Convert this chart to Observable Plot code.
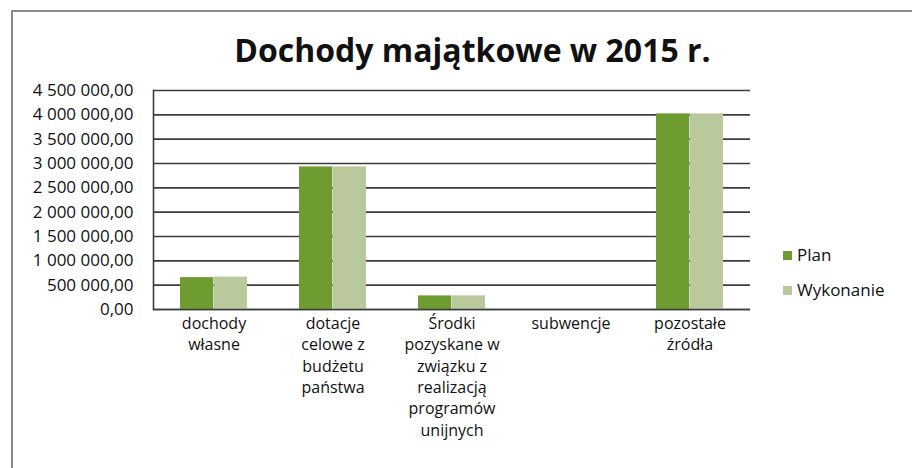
<!DOCTYPE html>
<html>
<head>
<meta charset="utf-8">
<script src="https://cdn.jsdelivr.net/npm/d3@7"></script>
<script src="https://cdn.jsdelivr.net/npm/@observablehq/plot@0.6"></script>
<style>
  html, body { margin: 0; padding: 0; background: #fff; }
  #wrap { position: relative; width: 912px; height: 468px; overflow: hidden; font-family: "Open Sans", sans-serif; color: #111; }
  #border { position: absolute; left: 11px; top: 10px; right: -5px; bottom: -5px; border-top: 2px solid #8a8a8a; border-left: 2px solid #8a8a8a; }
  #title { position: absolute; left: 0; width: 945px; top: 28px; text-align: center; font-size: 32px; font-weight: 700; color: #111; }
  #chart { position: absolute; left: 0; top: 0; }
  #legend { position: absolute; left: 783px; top: 243px; font-size: 17px; color: #111; }
  #legend div { height: 35px; display: flex; align-items: flex-start; }
  #legend span.sw { display: inline-block; width: 9px; height: 9px; margin-right: 5px; margin-top: 8px; }
</style>
</head>
<body>
<div id="wrap">
  <div id="border"></div>
  <div id="title">Dochody majątkowe w 2015 r.</div>
  <div id="chart"></div>
  <div id="legend"></div>
</div>
<script>
// Data
const categories = ["dochody własne", "dotacje celowe z budżetu państwa", "Środki pozyskane w związku z realizacją programów unijnych", "subwencje", "pozostałe źródła"];
const categoryLabels = ["dochody\nwłasne", "dotacje\ncelowe z\nbudżetu\npaństwa", "Środki\npozyskane w\nzwiązku z\nrealizacją\nprogramów\nunijnych", "subwencje", "pozostałe\nźródła"];
const series = ["Plan", "Wykonanie"];
const planValues = [655000, 2930000, 280000, 0, 4020000];
const wykonanieValues = [665000, 2930000, 280000, 0, 4020000];
const yTicks = [0, 500000, 1000000, 1500000, 2000000, 2500000, 3000000, 3500000, 4000000, 4500000];
const colors = ["#6f9c31", "#b9c99c"];

const rows = [];
categories.forEach((c, i) => {
  rows.push({category: c, series: "Plan", value: planValues[i]});
  rows.push({category: c, series: "Wykonanie", value: wykonanieValues[i]});
});
const labelOf = new Map(categories.map((c, i) => [c, categoryLabels[i]]));

const fmt = d3.formatLocale({decimal: ",", thousands: "\u00a0", grouping: [3], currency: ["", ""]}).format(",.2f");

const W = 912, H = 468, mL = 153, mR = 162, mT = 90, mB = 159;
const padIn = 0.435, padOut = 0.2175;
const step = (W - mL - mR) / (categories.length - padIn + 2 * padOut);
const bw = step * (1 - padIn);
const half = bw / 2;

const chart = Plot.plot({
  width: W,
  height: H,
  marginLeft: mL,
  marginRight: mR,
  marginTop: mT,
  marginBottom: mB,
  style: {fontFamily: "Open Sans, sans-serif", fontSize: "16px", color: "#111", background: "transparent"},
  x: {domain: categories, paddingInner: padIn, paddingOuter: padOut, label: null},
  y: {domain: [0, 4500000], label: null},
  marks: [
    Plot.ruleY(yTicks, {stroke: "#3c3c3c", strokeWidth: 1.6}),
    Plot.barY(rows.filter(d => d.series === "Plan"), {x: "category", y: "value", fill: colors[0], insetRight: half}),
    Plot.barY(rows.filter(d => d.series === "Wykonanie"), {x: "category", y: "value", fill: colors[1], insetLeft: half}),
    Plot.ruleY([0], {stroke: "#3c3c3c", strokeWidth: 1.6}),
    Plot.frame({anchor: "left", stroke: "#3c3c3c", strokeWidth: 1.6}),
    Plot.axisY({ticks: yTicks, tickFormat: fmt, tickSize: 0, tickPadding: 20, fontSize: 17, fill: "#111"}),
    Plot.axisX({tickSize: 0, tickPadding: 4, tickFormat: d => labelOf.get(d), lineHeight: 1.34, fontSize: 16, fill: "#111"})
  ]
});
document.getElementById("chart").appendChild(chart);

const legend = document.getElementById("legend");
series.forEach((s, i) => {
  const row = document.createElement("div");
  const sw = document.createElement("span");
  sw.className = "sw";
  sw.style.background = colors[i];
  row.appendChild(sw);
  row.appendChild(document.createTextNode(s));
  legend.appendChild(row);
});
</script>
</body>
</html>
